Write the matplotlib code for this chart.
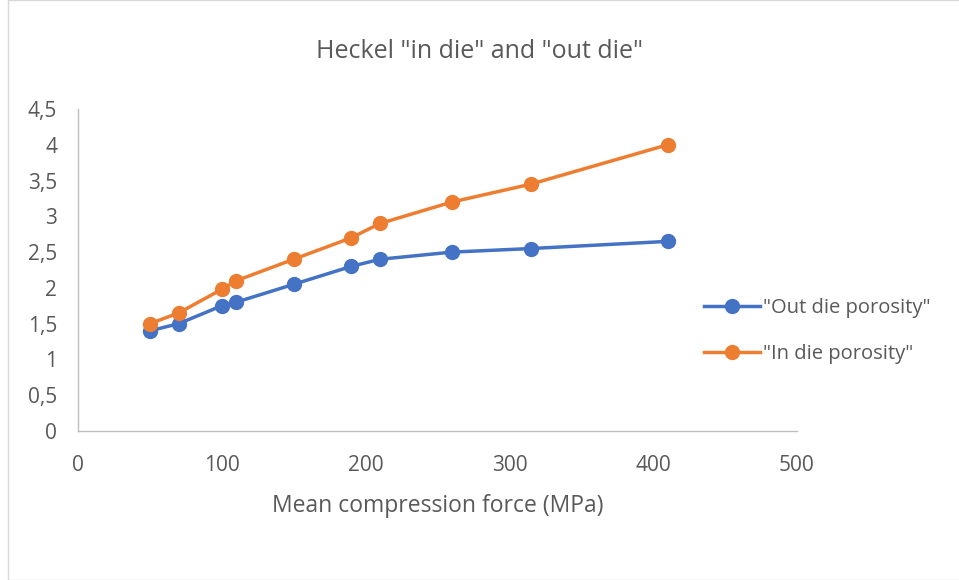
import matplotlib
matplotlib.use("Agg")
import matplotlib.pyplot as plt
from matplotlib.patches import Rectangle

# pressions moyennes (MPa)
pressure = [50, 70, 100, 110, 150, 190, 210, 260, 315, 410]
out_die = [1.40, 1.50, 1.75, 1.80, 2.05, 2.30, 2.40, 2.50, 2.55, 2.65]
in_die = [1.50, 1.65, 1.98, 2.10, 2.40, 2.70, 2.90, 3.20, 3.45, 4.00]

x_ticks = [0, 100, 200, 300, 400, 500]
y_ticks = [0, 0.5, 1, 1.5, 2, 2.5, 3, 3.5, 4, 4.5]
y_labels = ["0", "0,5", "1", "1,5", "2", "2,5", "3", "3,5", "4", "4,5"]

text_col = "#595959"
plt.rcParams["font.family"] = ["Open Sans", "DejaVu Sans"]

fig = plt.figure(figsize=(9.59, 5.80), dpi=100)
ax = fig.add_axes([78 / 959, 1 - 431 / 580, (797 - 78) / 959, (431 - 109) / 580])

ax.plot(pressure, out_die, color="#4472C4", lw=2.5, marker="o", ms=10, label='"Out die porosity"')
ax.plot(pressure, in_die, color="#ED7D31", lw=2.5, marker="o", ms=10, label='"In die porosity"')

ax.set_xlim(0, 500)
ax.set_ylim(0, 4.5)
ax.set_xticks(x_ticks)
ax.set_yticks(y_ticks)
ax.set_yticklabels(y_labels)
ax.tick_params(length=0, labelsize=15, colors=text_col)
ax.tick_params(axis="x", pad=17)
ax.tick_params(axis="y", pad=15)

for s in ["top", "right"]:
    ax.spines[s].set_visible(False)
for s in ["left", "bottom"]:
    ax.spines[s].set_color("#BFBFBF")
    ax.spines[s].set_linewidth(1)

ax.set_xlabel("Mean compression force (MPa)", fontsize=16.5, color=text_col, labelpad=13)
fig.text(0.5, 1 - 52 / 580, 'Heckel "in die" and "out die"', ha="center", va="center",
         fontsize=18, color=text_col)

fig.legend(loc="center left", bbox_to_anchor=(704 / 959, 1 - 331 / 580), frameon=False,
           fontsize=14.5, labelcolor=text_col, handlelength=2.8, handletextpad=0.15,
           labelspacing=1.3, borderpad=0, borderaxespad=0)

# cadre du graphique
fig.patches.append(Rectangle((8 / 959, 0), 1, 1, transform=fig.transFigure,
                             fill=False, edgecolor="#D9D9D9", lw=1))

fig.savefig("out.png", dpi=100)
